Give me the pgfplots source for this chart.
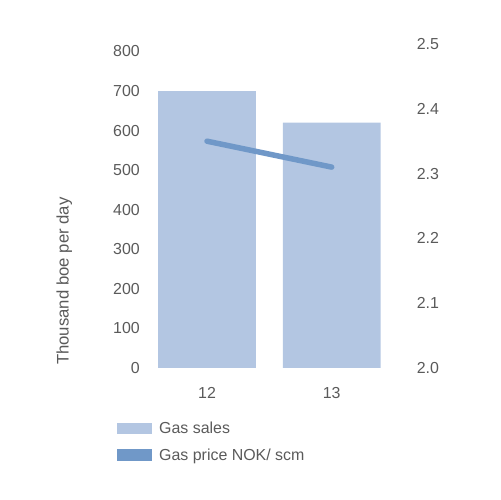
\documentclass[border=0pt]{standalone}
\usepackage{pgfplots}
\pgfplotsset{compat=1.18}
\usepackage{fontspec}
\setmainfont{Liberation Sans}
\definecolor{barc}{RGB}{179,198,226}
\definecolor{linec}{RGB}{112,152,200}
\definecolor{txt}{RGB}{90,90,90}
\pgfplotsset{
  myax/.style={
    scale only axis, width=249.4bp, height=324bp,
    at={(144.65bp,132bp)}, anchor=south west,
    xmin=-0.5, xmax=1.5,
    axis line style={draw=none}, major tick length=0pt, tick style={draw=none},
    /pgf/number format/assume math mode=true,
    tick label style={font=\fontsize{16}{19}\selectfont, text=txt},
    label style={font=\fontsize{16.8}{20}\selectfont, text=txt},
  }
}
\begin{document}
\begin{tikzpicture}[x=1bp,y=1bp]
\path[use as bounding box] (0,0) rectangle (500,500);
\begin{axis}[myax,
  axis lines=left,
  ymin=0, ymax=819,
  ytick={0,100,200,300,400,500,600,700,800},
  xtick={0,1}, xticklabels={12,13},
  ylabel={Thousand boe per day},
  yticklabel style={anchor=east, inner sep=0pt, xshift=-4.65bp},
  xticklabel style={anchor=base, inner sep=0pt, yshift=-31bp},
  ylabel style={at={(axis description cs:-0.3053,0.009)}, anchor=base west, inner sep=0pt, rotate=0},
]
\addplot[ybar, bar width=0.785, fill=barc, draw=none] coordinates {(0,700) (1,620)};
\end{axis}
\begin{axis}[myax,
  axis y line*=right, axis x line=none,
  ymin=2.0, ymax=2.5,
  ytick={2.0,2.1,2.2,2.3,2.4,2.5},
  yticklabel={\pgfmathprintnumber[fixed,precision=1,fixed zerofill]{\tick}},
  yticklabel style={anchor=west, inner sep=0pt, xshift=22.6bp},
  legend style={at={(axis description cs:-0.1109,-0.2313)}, anchor=west,
    draw=none, fill=none, inner sep=0pt, column sep=7bp, row sep=11.3bp,
    font=\fontsize{16}{19}\selectfont,
    nodes={inner sep=0pt, text=txt, text height=11.7bp, text depth=3.5bp},
    cells={anchor=base west}},
]
\addlegendimage{legend image code/.code={\path[fill=barc, draw=none] (0bp,-0.3bp) rectangle (35bp,11bp);}}
\addlegendentry{Gas sales}
\addplot[linec, line width=5.5bp, line cap=round,
  legend image code/.code={\path[fill=linec, draw=none] (0bp,-0.3bp) rectangle (35bp,11bp);}]
  coordinates {(0,2.35) (1,2.31)};
\addlegendentry{Gas price NOK/ scm}
\end{axis}
\end{tikzpicture}
\end{document}
